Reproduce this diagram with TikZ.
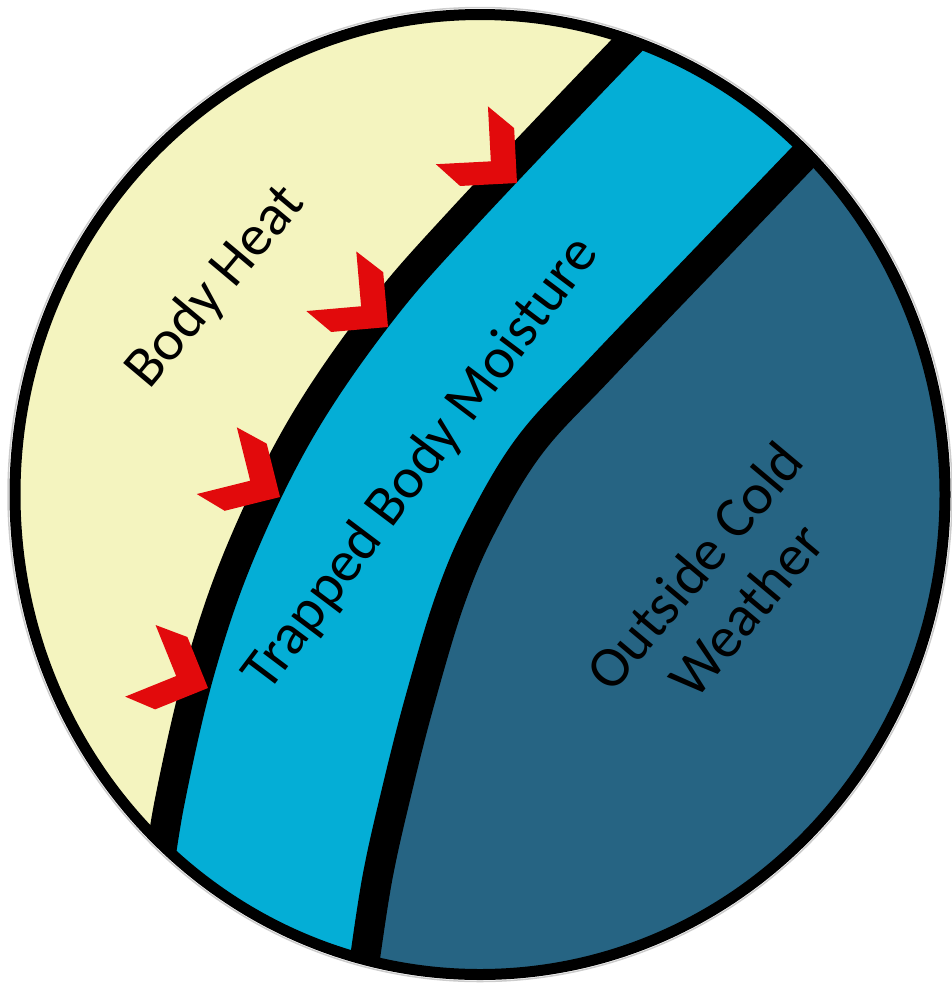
\documentclass[tikz,border=0pt]{standalone}
\usepackage{fontspec}
\setmainfont{Carlito}
\usepackage{tikz}
\definecolor{heatyellow}{HTML}{F4F4BF}
\definecolor{moistcyan}{HTML}{04AED6}
\definecolor{colddark}{HTML}{266483}
\definecolor{chevred}{HTML}{E20A0C}
\tikzset{every node/.style={font=\fontsize{58}{68}\selectfont},
  layerline/.style={draw=black,line width=30pt,line join=round},
  zonetext/.style={inner sep=0pt,outer sep=0pt,align=center},
  chevron/.style={fill=chevred}}
\def\CX{480}
\def\CY{494.5}
\def\RX{465}
\def\RY{480}
\newcommand{\chev}[3]{%
  \fill[chevron,shift={(#1,#2)},rotate=#3]
    (0,0) -- (-57,0) -- (-80,-23) -- (-25,-23) -- (-25,-78) -- (0,-55) -- cycle;}

\begin{document}
\begin{tikzpicture}[x=1pt,y=-1pt]
  \path[use as bounding box] (0,0) rectangle (951,983);

  % Layers, clipped to the disc
  \begin{scope}
    \clip (\CX,\CY) ellipse [x radius=\RX, y radius=\RY];
    \fill[colddark] (\CX,\CY) ellipse [x radius=\RX, y radius=\RY];
    \filldraw[fill=moistcyan,layerline]
      plot[smooth,tension=0.6] coordinates {(840,120) (810,150) (714,250)
        (599,370) (530,445) (482,525) (450,600) (420,700) (397,790)
        (377,880) (362,980)}
      -- (-60,1000) -- (-60,-60) -- (900,-60) -- cycle;
    \filldraw[fill=heatyellow,layerline]
      plot[smooth,tension=0.6] coordinates {(660,15) (632,40) (461,220)
        (377,317) (300,430) (240,553) (200,670) (170,800) (156,890)}
      -- (-60,1000) -- (-60,-60) -- (700,-60) -- cycle;
  \end{scope}

  % Heat arrows
  \chev{517}{183}{3}
  \chev{388}{327}{5}
  \chev{280}{497}{14}
  \chev{208}{688}{22}

  % Rim
  \draw[black!20,line width=1.5pt] (\CX,\CY) ellipse [x radius=\RX+7, y radius=\RY+7];
  \draw[black,line width=11pt] (\CX,\CY) ellipse [x radius=\RX, y radius=\RY];

  % Labels
  \node[zonetext,rotate=50] (heat) at (216,287) {Body Heat};
  \node[zonetext,rotate=53] (moisture) at (422,464) {Trapped Body Moisture};
  \node[zonetext,rotate=50] (weather) at (720,588) {Outside Cold\\Weather};
\end{tikzpicture}
\end{document}
